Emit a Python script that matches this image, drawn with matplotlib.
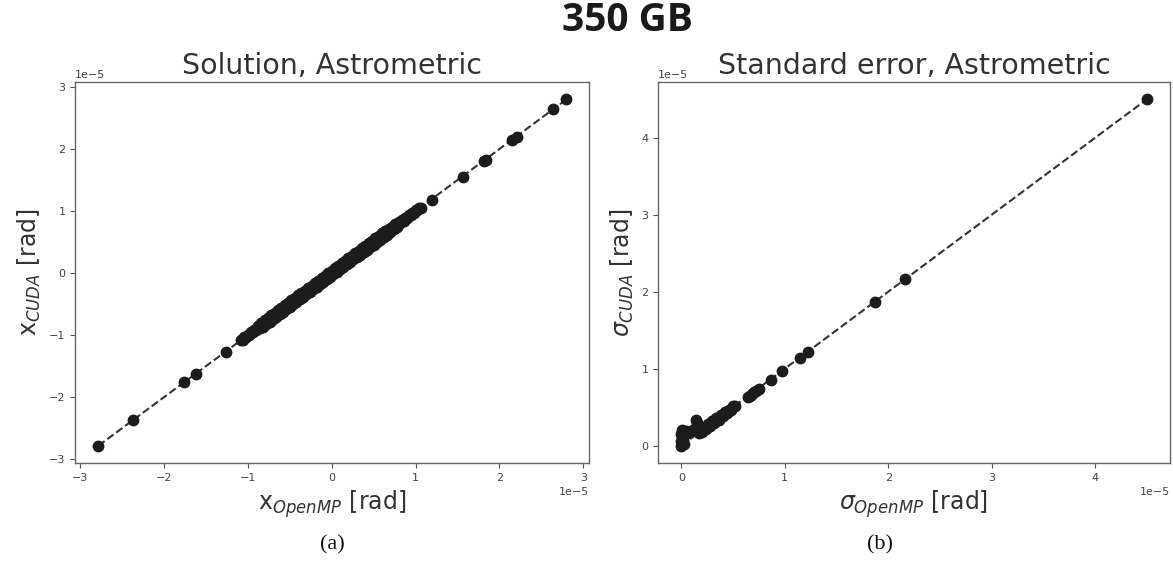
import numpy as np
import matplotlib
matplotlib.use("Agg")
import matplotlib.pyplot as plt

### Data (unit: 1e-5 rad)
# (a) solution, astrometric: OpenMP vs CUDA
sol_openmp = [-2.78, -2.37, -1.76, -1.62, -1.26,
              -1.08, -1.06, -1.04, -1.02, -1.00, -0.98, -0.96, -0.94, -0.92, -0.90,
              -0.88, -0.86, -0.84, -0.82, -0.80, -0.78, -0.76, -0.74, -0.72, -0.70,
              -0.68, -0.66, -0.64, -0.62, -0.60, -0.58, -0.56, -0.54, -0.52, -0.50,
              -0.48, -0.46, -0.44, -0.42, -0.40, -0.38, -0.36, -0.34, -0.32, -0.30,
              -0.28, -0.26, -0.24, -0.22, -0.20, -0.18, -0.16, -0.14, -0.12, -0.10,
              -0.08, -0.06, -0.04, -0.02, 0.00, 0.02, 0.04, 0.06, 0.08, 0.10,
              0.12, 0.14, 0.16, 0.18, 0.20, 0.22, 0.24, 0.26, 0.28, 0.30,
              0.32, 0.34, 0.36, 0.38, 0.40, 0.42, 0.44, 0.46, 0.48, 0.50,
              0.52, 0.54, 0.56, 0.58, 0.60, 0.62, 0.64, 0.66, 0.68, 0.70,
              0.72, 0.74, 0.76, 0.78, 0.80, 0.82, 0.84, 0.86, 0.88, 0.90,
              0.92, 0.94, 0.96, 0.98, 1.00, 1.02, 1.04, 1.06,
              1.20, 1.57, 1.81, 1.84, 2.15, 2.21, 2.64, 2.79]
sol_cuda = [-2.78, -2.36, -1.76, -1.62, -1.27,
            -1.07, -1.07, -1.03, -1.03, -0.99, -0.99, -0.95, -0.95, -0.91, -0.91,
            -0.85, -0.89, -0.80, -0.86, -0.76, -0.82, -0.72, -0.78, -0.68, -0.74,
            -0.64, -0.70, -0.60, -0.66, -0.56, -0.62, -0.52, -0.58, -0.48, -0.54,
            -0.44, -0.50, -0.40, -0.46, -0.36, -0.42, -0.32, -0.38, -0.28, -0.34,
            -0.24, -0.30, -0.20, -0.26, -0.16, -0.22, -0.12, -0.18, -0.08, -0.14,
            -0.04, -0.10, 0.00, -0.06, 0.04, -0.02, 0.08, 0.02, 0.12, 0.06,
            0.16, 0.10, 0.20, 0.14, 0.24, 0.18, 0.28, 0.22, 0.32, 0.26,
            0.36, 0.30, 0.40, 0.34, 0.44, 0.38, 0.48, 0.42, 0.52, 0.46,
            0.56, 0.50, 0.60, 0.54, 0.64, 0.58, 0.68, 0.62, 0.71, 0.67,
            0.75, 0.71, 0.79, 0.75, 0.82, 0.80, 0.86, 0.84, 0.89, 0.89,
            0.93, 0.93, 0.97, 0.97, 1.01, 1.01, 1.05, 1.05,
            1.18, 1.55, 1.81, 1.83, 2.15, 2.20, 2.64, 2.80]

# (b) standard error, astrometric: OpenMP vs CUDA
err_openmp = [0.00, 0.01, 0.00, 0.02, 0.01, 0.00, 0.02, 0.01, 0.03, 0.04,
              0.05, 0.07, 0.09, 0.11, 0.13, 0.15, 0.14, 0.16, 0.17,
              0.18, 0.20, 0.22, 0.24, 0.26, 0.28, 0.30, 0.32, 0.34, 0.36,
              0.38, 0.40, 0.42, 0.44, 0.46, 0.48, 0.50, 0.52,
              0.64, 0.66, 0.68, 0.70, 0.72, 0.75, 0.87, 0.97, 1.15, 1.22,
              1.87, 2.16, 4.50]
err_cuda = [0.00, 0.03, 0.06, 0.09, 0.12, 0.15, 0.18, 0.20, 0.02, 0.15,
            0.19, 0.18, 0.19, 0.20, 0.22, 0.30, 0.33, 0.27, 0.17,
            0.20, 0.18, 0.24, 0.22, 0.28, 0.26, 0.32, 0.30, 0.36, 0.34,
            0.40, 0.38, 0.44, 0.42, 0.47, 0.47, 0.51, 0.52,
            0.63, 0.65, 0.67, 0.70, 0.71, 0.74, 0.86, 0.97, 1.14, 1.22,
            1.87, 2.16, 4.50]

suptitle = "350 GB"
titles = ["Solution, Astrometric", "Standard error, Astrometric"]
xlabels = [r"x$_{OpenMP}$ [rad]", r"$\sigma_{OpenMP}$ [rad]"]
ylabels = [r"x$_{CUDA}$ [rad]", r"$\sigma_{CUDA}$ [rad]"]
captions = ["(a)", "(b)"]


def draw_panel(ax, xs, ys, title, xlabel, ylabel):
    xs = np.array(xs) * 1e-5
    ys = np.array(ys) * 1e-5
    # 1. y = x 虚线
    lo, hi = xs.min(), xs.max()
    ax.plot([lo, hi], [lo, hi], ls="--", lw=1.5, color="#333333", zorder=2)
    # 2. 数据点
    ax.plot(xs, ys, "o", ms=7.5, color="#1c1c1c", zorder=3)
    # 3. 文字
    ax.set_title(title, fontsize=20.5, color="#333333")
    ax.set_xlabel(xlabel, fontsize=17, color="#333333")
    ax.set_ylabel(ylabel, fontsize=17, color="#333333")
    ax.tick_params(labelsize=8, colors="#555555", labelcolor="#444444")
    ax.xaxis.get_offset_text().set_fontsize(8)
    ax.yaxis.get_offset_text().set_fontsize(8)
    ax.xaxis.get_offset_text().set_color("#444444")
    ax.yaxis.get_offset_text().set_color("#444444")
    for side in ["left", "right", "top", "bottom"]:
        ax.spines[side].set_color("#666666")
        ax.spines[side].set_linewidth(1.0)


fig = plt.figure(figsize=(11.73, 5.63), dpi=100)
ax1 = fig.add_axes([0.0640, 0.1776, 0.4382, 0.6767])
ax2 = fig.add_axes([0.5610, 0.1776, 0.4365, 0.6767])

draw_panel(ax1, sol_openmp, sol_cuda, titles[0], xlabels[0], ylabels[0])
draw_panel(ax2, err_openmp, err_cuda, titles[1], xlabels[1], ylabels[1])

ax1.set_xticks([-3e-5, -2e-5, -1e-5, 0, 1e-5, 2e-5, 3e-5])
ax1.set_yticks([-3e-5, -2e-5, -1e-5, 0, 1e-5, 2e-5, 3e-5])
ax2.set_xticks([0, 1e-5, 2e-5, 3e-5, 4e-5])
ax2.set_yticks([0, 1e-5, 2e-5, 3e-5, 4e-5])

fig.text(0.535, 0.963, suptitle, ha="center", va="center",
         fontsize=28, fontweight="bold", family="Open Sans", color="#1a1a1a")

fig.text(332 / 1173, 1 - 545 / 563, captions[0], ha="center", va="center",
         fontsize=16, family="Liberation Serif", color="#111111")
fig.text(880 / 1173, 1 - 545 / 563, captions[1], ha="center", va="center",
         fontsize=16, family="Liberation Serif", color="#111111")

plt.savefig("out.png", dpi=100)
